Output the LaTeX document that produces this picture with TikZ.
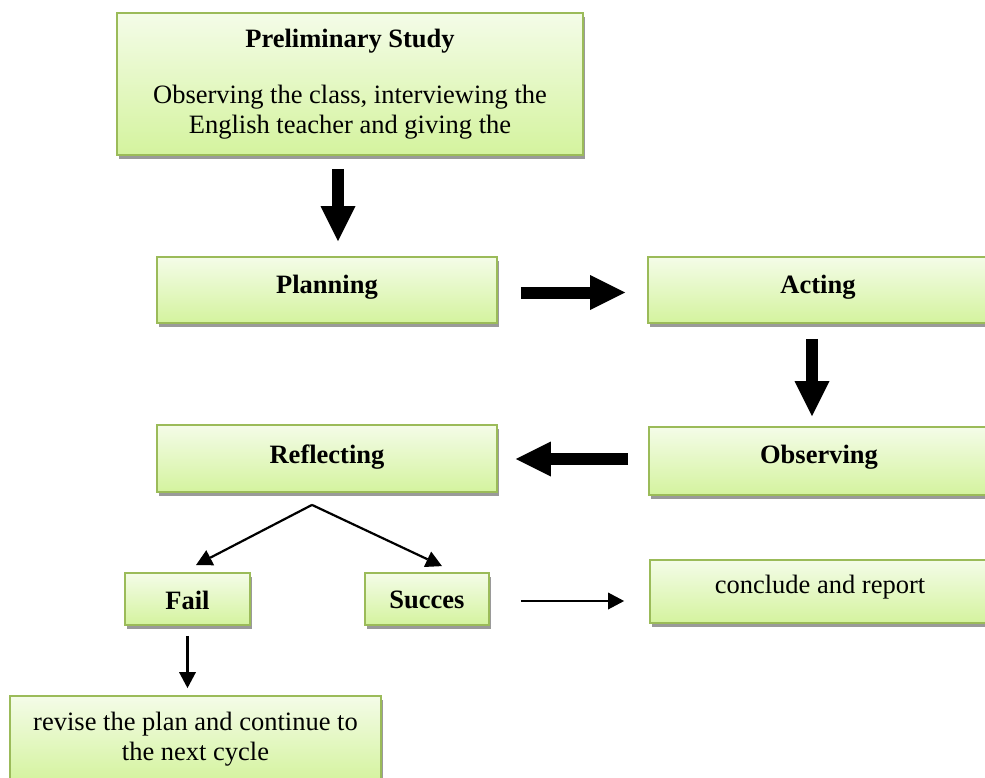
\documentclass[tikz,border=0pt]{standalone}
\usepackage{fontspec}
\setmainfont{Liberation Serif}
\usetikzlibrary{arrows.meta,shadows}
\definecolor{boxborder}{HTML}{9BBB59}
\definecolor{boxtop}{HTML}{F4FCE8}
\definecolor{boxbot}{HTML}{D4F39E}
\definecolor{shadowgray}{HTML}{9A9A9A}
\tikzset{
  box/.style={draw=boxborder, line width=1.8pt, top color=boxtop, bottom color=boxbot,
    drop shadow={shadow xshift=1.5pt, shadow yshift=-4pt, fill=shadowgray, opacity=1},
    inner sep=0pt, font=\fontsize{26.5}{30}\selectfont},
  oneline/.style={text height=#1, text depth=6pt},
  oneline/.default=12pt,
  bigarrow/.style={line width=12pt, -{Triangle[width=35pt,length=35pt,line width=0pt]}},
  thinarrow/.style={line width=2.2pt, -{Triangle[width=17pt,length=16pt,line width=0pt]}},
}
\begin{document}
\begin{tikzpicture}[x=1pt,y=-1pt]
\useasboundingbox (0,0) rectangle (985,778);
\node[box, align=center, minimum width=466pt, minimum height=142pt] (prelim) at (350,84)
  {\textbf{Preliminary Study}\\[26pt]Observing the class, interviewing the\\English teacher and giving the};
\node[box, oneline=12pt, minimum width=340pt, minimum height=66pt] (plan) at (327,290) {\textbf{Planning}};
\node[box, oneline=12pt, minimum width=340pt, minimum height=66pt] (act) at (818,290) {\textbf{Acting}};
\node[box, oneline=15pt, minimum width=340pt, minimum height=67pt] (refl) at (327,458.5) {\textbf{Reflecting}};
\node[box, oneline=10pt, minimum width=340pt, minimum height=68pt] (obs) at (819,461) {\textbf{Observing}};
\node[box, oneline=26pt, minimum width=125pt, minimum height=52pt] (fail) at (187.5,599) {\textbf{Fail}};
\node[box, oneline=24pt, minimum width=124pt, minimum height=52pt] (succes) at (427,599) {\textbf{Succes}};
\node[box, oneline=10pt, minimum width=340pt, minimum height=63pt] (concl) at (820,591.5) {conclude and report};
\node[box, align=center, minimum width=371pt, minimum height=86pt] (revise) at (195.5,739)
  {revise the plan and continue to\\the next cycle};
\draw[bigarrow, shorten <=13pt, shorten >=15pt] (prelim.south -| 338,0) -- (plan.north -| 338,0);
\draw[bigarrow, shorten <=23pt, shorten >=22pt] (plan.east |- 0,292.5) -- (act.west |- 0,292.5);
\draw[bigarrow, shorten <=15pt, shorten >=10pt] (act.south -| 812,0) -- (obs.north -| 812,0);
\draw[bigarrow, shorten <=20pt, shorten >=18pt] (obs.west |- 0,459) -- (refl.east |- 0,459);
\coordinate (apex) at ([xshift=-15pt,yshift=-12pt]refl.south);
\draw[thinarrow] (apex) -- ([xshift=8.5pt,yshift=7pt]fail.north);
\draw[thinarrow] (apex) -- ([xshift=15pt,yshift=6pt]succes.north);
\draw[thinarrow, shorten <=31pt, shorten >=25pt] (succes.east |- 0,601) -- (concl.west |- 0,601);
\draw[thinarrow, shorten <=10pt, shorten >=7pt] (fail.south) -- (fail.south |- revise.north);
\end{tikzpicture}
\end{document}
